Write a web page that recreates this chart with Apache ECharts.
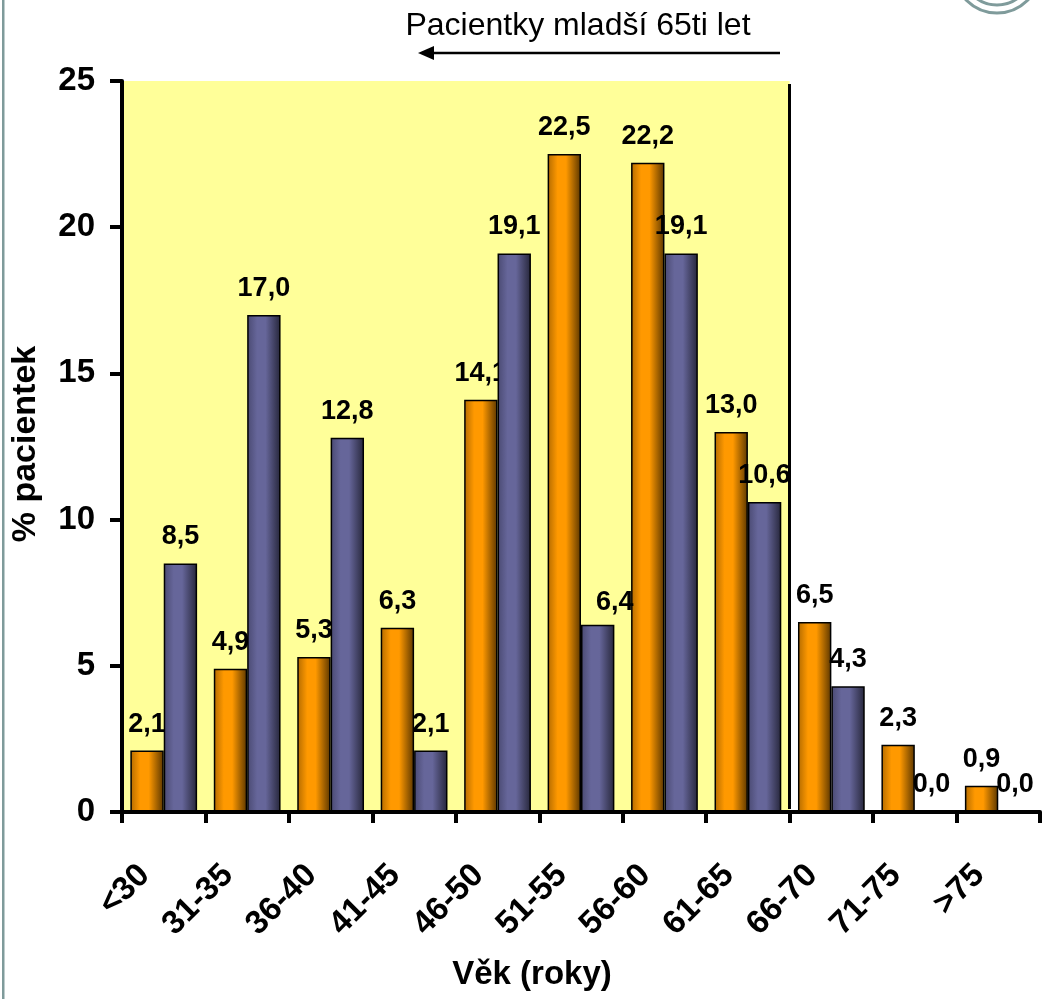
<!DOCTYPE html>
<html>
<head>
<meta charset="utf-8">
<script src="https://cdn.jsdelivr.net/npm/echarts@6/dist/echarts.min.js"></script>
<style>
  html, body { margin: 0; padding: 0; background: #fff; }
  #chart { width: 1048px; height: 999px; }
</style>
</head>
<body>
<div id="chart"></div>
<script>
// Age groups (years)
const categories = ['<30', '31-35', '36-40', '41-45', '46-50', '51-55', '56-60', '61-65', '66-70', '71-75', '>75'];
// Share of patients (%) in each age group, two cohorts
const cohortOrange = [2.1, 4.9, 5.3, 6.3, 14.1, 22.5, 22.2, 13.0, 6.5, 2.3, 0.9];
const cohortBlue = [8.5, 17.0, 12.8, 2.1, 19.1, 6.4, 19.1, 10.6, 4.3, 0.0, 0.0];
// Y axis ticks
const yTicks = [0, 5, 10, 15, 20, 25];
// Number of age groups below 65 years (shaded band)
const youngerGroups = 8;

const FONT = "'Liberation Sans', Arial, sans-serif";
const fmt = v => v.toFixed(1).replace('.', ',');

// a few value labels sit slightly off-centre
const labelShift = { blue: { 5: [17, 4] } };

function buildData(values, key) {
  return values.map((v, i) => {
    const shift = labelShift[key] && labelShift[key][i];
    return shift ? { value: v, label: { offset: shift } } : v;
  });
}

function barGradient(dark1, mid, dark2) {
  return new echarts.graphic.LinearGradient(0, 0, 1, 0, [
    { offset: 0, color: dark1 },
    { offset: 0.3, color: mid },
    { offset: 0.55, color: mid },
    { offset: 1, color: dark2 }
  ]);
}

const valueLabel = {
  show: true,
  position: 'top',
  distance: 13,
  color: '#000',
  fontFamily: FONT,
  fontWeight: 'bold',
  fontSize: 27,
  formatter: p => fmt(p.value)
};

const chart = echarts.init(document.getElementById('chart'), null, { renderer: 'canvas' });

chart.setOption({
  backgroundColor: '#ffffff',
  animation: false,
  grid: { left: 122, right: 8, top: 81, bottom: 187 },
  xAxis: [
    {
      type: 'category',
      data: categories,
      z: 5,
      axisLine: { lineStyle: { color: '#000', width: 4 } },
      axisTick: { show: true, length: 11, lineStyle: { color: '#000', width: 4 } },
      axisLabel: {
        interval: 0,
        rotate: 45,
        margin: 39,
        padding: [0, 27, 0, 0],
        color: '#000',
        fontFamily: FONT,
        fontWeight: 'bold',
        fontSize: 33
      }
    },
    {
      type: 'value',
      min: 0,
      max: categories.length,
      show: false
    }
  ],
  yAxis: {
    type: 'value',
    min: 0,
    max: 25,
    interval: 5,
    z: 5,
    axisLine: { show: true, lineStyle: { color: '#000', width: 4 } },
    axisTick: { show: true, length: 12, lineStyle: { color: '#000', width: 4 } },
    splitLine: { show: false },
    axisLabel: {
      margin: 27,
      color: '#000',
      fontFamily: FONT,
      fontWeight: 'bold',
      fontSize: 33,
      formatter: v => (yTicks.indexOf(v) >= 0 ? String(v) : '')
    }
  },
  series: [
    {
      // shaded band for patients younger than 65 and its right boundary
      type: 'scatter',
      xAxisIndex: 1,
      data: [],
      z: 1,
      silent: true,
      markArea: {
        silent: true,
        itemStyle: { color: '#ffff99' },
        data: [[{ xAxis: 0, yAxis: 0 }, { xAxis: youngerGroups, yAxis: 25 }]]
      },
      markLine: {
        silent: true,
        symbol: 'none',
        label: { show: false },
        lineStyle: { color: '#000', width: 3, type: 'solid' },
        data: [[{ coord: [youngerGroups, 0.1] }, { coord: [youngerGroups, 24.9] }]]
      }
    },
    {
      name: 'cohortOrange',
      type: 'bar',
      z: 2,
      data: buildData(cohortOrange, 'orange'),
      barGap: '0%',
      barCategoryGap: '20%',
      itemStyle: {
        color: barGradient('#b36b00', '#ff9900', '#5a3600'),
        borderColor: '#000',
        borderWidth: 1.5
      },
      label: valueLabel
    },
    {
      name: 'cohortBlue',
      type: 'bar',
      z: 3,
      data: buildData(cohortBlue, 'blue'),
      itemStyle: {
        color: barGradient('#4a4a72', '#66669a', '#26263a'),
        borderColor: '#000',
        borderWidth: 1.5
      },
      label: valueLabel
    }
  ],
  graphic: [
    {
      type: 'rect',
      shape: { x: 2, y: 0, width: 2.5, height: 999 },
      style: { fill: '#7f9b9b' },
      silent: true
    },
    {
      type: 'circle',
      shape: { cx: 997, cy: -30, r: 43 },
      style: { fill: 'none', stroke: '#7f9b9b', lineWidth: 3 },
      silent: true
    },
    {
      type: 'circle',
      shape: { cx: 997, cy: -30, r: 35 },
      style: { fill: 'none', stroke: '#7f9b9b', lineWidth: 3 },
      silent: true
    },
    {
      type: 'text',
      x: 578,
      y: 26,
      style: {
        text: 'Pacientky mladší 65ti let',
        fill: '#000',
        font: '32px ' + FONT,
        align: 'center',
        verticalAlign: 'middle'
      }
    },
    {
      type: 'line',
      shape: { x1: 780, y1: 53, x2: 432, y2: 53 },
      style: { stroke: '#000', lineWidth: 2.5 }
    },
    {
      type: 'polygon',
      shape: { points: [[418, 53], [434, 46], [434, 60]] },
      style: { fill: '#000' }
    },
    {
      type: 'text',
      x: 26,
      y: 444,
      rotation: Math.PI / 2,
      style: {
        text: '% pacientek',
        fill: '#000',
        font: 'bold 34px ' + FONT,
        align: 'center',
        verticalAlign: 'middle'
      }
    },
    {
      type: 'text',
      x: 532,
      y: 975,
      style: {
        text: 'Věk (roky)',
        fill: '#000',
        font: 'bold 33px ' + FONT,
        align: 'center',
        verticalAlign: 'middle'
      }
    }
  ]
});
</script>
</body>
</html>
